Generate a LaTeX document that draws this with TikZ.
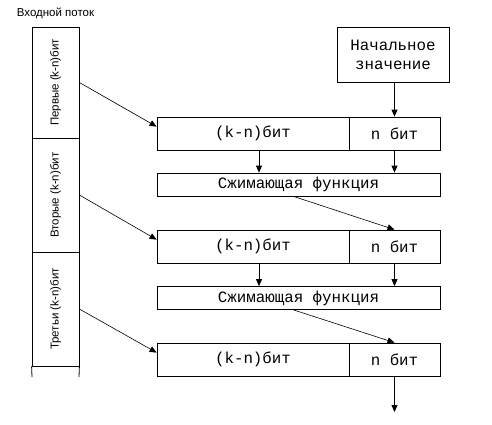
\documentclass[tikz,border=0pt]{standalone}
\usepackage{fontspec}
\setmainfont{Liberation Sans}
\newfontfamily\monof{Liberation Mono}
\usetikzlibrary{arrows.meta,calc}
\begin{document}
\begin{tikzpicture}[x=1pt,y=-1pt,line width=0.8pt,
  arr/.style={-{Triangle[length=7pt,width=6pt]}},
  thinarr/.style={line width=0.6pt,-{Triangle[length=7pt,width=6pt]}},
  sec/.style={draw,rectangle,minimum width=47pt,inner sep=0pt},
  vlab/.style={font=\fontsize{11.5}{13}\selectfont,rotate=90},
  cell/.style={draw,rectangle,minimum height=33pt,inner sep=0pt,font=\monof\fontsize{15.8}{18}\selectfont},
  cbox/.style={draw,rectangle,minimum height=23pt,minimum width=283pt,inner sep=0pt,font=\monof\fontsize{15.8}{18}\selectfont}]
\useasboundingbox (0,0) rectangle (492,424);
% title
\node[font=\fontsize{11.5}{13}\selectfont] (title) at (55.5,13) {Входной поток};
% left column
\node[sec,minimum height=111pt] (sec1) at (55.5,82.5) {};
\node[sec,minimum height=114pt] (sec2) at (55.5,195) {};
\node[sec,minimum height=114pt] (sec3) at (55.5,309) {};
\node[vlab] (l1) at (55.5,82.5) {Первые (k-n)бит};
\node[vlab] (l2) at (55.5,195) {Вторые (k-n)бит};
\node[vlab] (l3) at (55.5,309) {Третьи (k-n)бит};
\coordinate (e1) at (32,377);
\coordinate (e2) at (79,377);
\draw (sec3.south west) -- (e1);
\draw (sec3.south east) -- (e2);
% initial value
\node[draw,rectangle,minimum width=112pt,minimum height=55pt,inner sep=0pt,align=center,
  font=\monof\fontsize{15.8}{19}\selectfont] (init) at (393,54.5) {Начальное\\значение};
% rows
\node[cell,minimum width=192pt] (kn1) at (253,133.5) {(k-n)бит};
\node[cell,minimum width=91pt] (n1) at (394.5,133.5) {n бит};
\node[cbox] (c1) at (298.5,184.5) {Сжимающая функция};
\node[cell,minimum width=192pt] (kn2) at (253,246.5) {(k-n)бит};
\node[cell,minimum width=91pt] (n2) at (394.5,246.5) {n бит};
\node[cbox] (c2) at (298.5,298) {Сжимающая функция};
\node[cell,minimum width=192pt] (kn3) at (253,359.5) {(k-n)бит};
\node[cell,minimum width=91pt] (n3) at (394.5,359.5) {n бит};
\coordinate (out) at (394.5,412);
% arrows
\draw[arr] (n1.north |- init.south) -- (n1.north);
\draw[arr] ([xshift=6pt]kn1.south) -- ([xshift=6pt]kn1.south |- c1.north);
\draw[arr] (n1.south) -- (n1.south |- c1.north);
\draw[thinarr] ([xshift=-5pt]c1.south) -- (n2.north);
\draw[arr] ([xshift=6pt]kn2.south) -- ([xshift=6pt]kn2.south |- c2.north);
\draw[arr] (n2.south) -- (n2.south |- c2.north);
\draw[thinarr] ([xshift=-5pt]c2.south) -- (n3.north);
\draw[arr] (n3.south) -- (out);
\draw[thinarr] (sec1.east) -- ([yshift=-10pt]kn1.north west);
\draw[thinarr] (sec2.east) -- ([yshift=-10pt]kn2.north west);
\draw[thinarr] (sec3.east) -- ([yshift=-10pt]kn3.north west);
\end{tikzpicture}
\end{document}
